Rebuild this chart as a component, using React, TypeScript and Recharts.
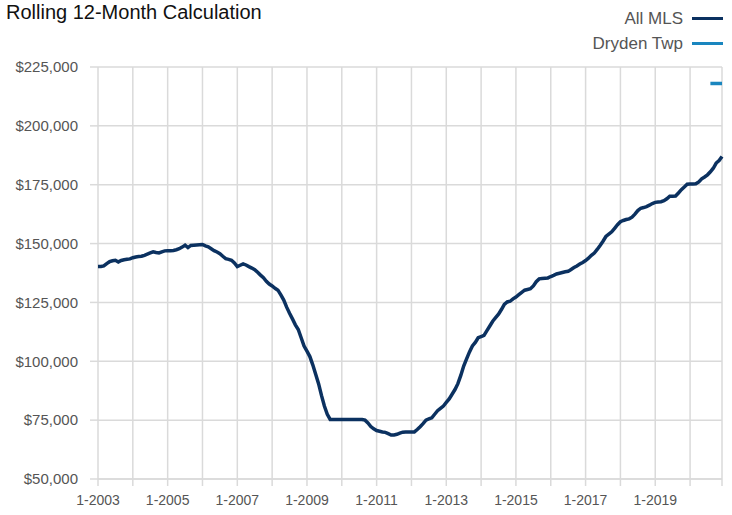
import { CartesianGrid, Line, LineChart, XAxis, YAxis } from "recharts";

// monthly rolling 12-month values, Jan 2003 .. Dec 2020
const years = [2003, 2004, 2005, 2006, 2007, 2008, 2009, 2010, 2011, 2012, 2013, 2014, 2015, 2016, 2017, 2018, 2019, 2020];

const allMls = [
  140300, 140300, 140500, 141500, 142300, 142700, 142900, 142200, 142800, 143100, 143300, 143500,
  144000, 144300, 144500, 144600, 145000, 145500, 146000, 146500, 146200, 146000, 146500, 146900,
  147000, 147000, 147100, 147400, 147800, 148500, 149300, 148300, 149200, 149300, 149400, 149500,
  149600, 149000, 148600, 147800, 147000, 146400, 145700, 144600, 143600, 143300, 142900, 141800,
  140200, 140800, 141400, 140900, 140200, 139600, 138900, 137800, 136600, 135500, 134000, 132800,
  132000, 131000, 130200, 128200, 126000, 123000, 120400, 118000, 115500, 113500, 110000, 106500,
  104300, 102000, 98500, 94500, 90500, 85500, 81000, 77500, 75300, 75300, 75300, 75300,
  75300, 75300, 75300, 75300, 75300, 75300, 75300, 75300, 75000, 73800, 72300, 71300,
  70600, 70300, 70000, 69800, 69300, 68700, 68700, 69000, 69500, 69900, 70000, 70000,
  70000, 70000, 71000, 72200, 73500, 75000, 75500, 76000, 77500, 79000, 80000, 81000,
  82500, 84000, 86000, 88000, 90500, 94000, 98000, 101000, 104000, 106500, 108000, 110000,
  110500, 111000, 113000, 115000, 117000, 118500, 120000, 122000, 124200, 125200, 125500, 126500,
  127300, 128300, 129300, 130200, 130500, 130800, 132000, 133800, 135000, 135200, 135300, 135400,
  136000, 136500, 137100, 137400, 137700, 138000, 138200, 139000, 139800, 140500, 141300, 142000,
  142800, 143800, 145000, 146000, 147500, 149200, 151000, 153000, 154000, 155000, 156500, 158000,
  159300, 159800, 160200, 160500, 161200, 162500, 164000, 165000, 165300, 165700, 166300, 167000,
  167500, 167700, 167800, 168200, 169000, 170100, 170100, 170200, 171500, 172900, 174000, 175200,
  175300, 175300, 175400, 176200, 177500, 178300, 179200, 180500, 182000, 184200, 185300, 187000,
];

// only the last few months have a value
const drydenTwp: (number | null)[] = [...Array(211).fill(null), 218000, 218000, 218000, 218000, 218000];

const yTicks = [50000, 75000, 100000, 125000, 150000, 175000, 200000, 225000];

const months = years.flatMap((y) => Array.from({ length: 12 }, (_, m) => `${m + 1}-${y}`));

const data = months.map((label, i) => ({
  i,
  label,
  allMls: allMls[i],
  dryden: drydenTwp[i],
}));

const xTicks = [...years.map((_, k) => k * 12), months.length - 1];

const NAVY = "#0b3160";
const BLUE = "#1a86bf";
const GRID = "#dadada";

const App = () => {
  return (
    <div style={{ position: "absolute", left: 0, top: 0, width: 732, height: 515, background: "#fff" }}>
      <div
        style={{
          position: "absolute",
          left: 6,
          top: 0,
          fontFamily: "'Liberation Sans', sans-serif",
          fontSize: 20,
          color: "#111",
          whiteSpace: "nowrap",
          lineHeight: "24px",
        }}
      >
        Rolling 12-Month Calculation
      </div>
      <div
        style={{
          position: "absolute",
          right: 9,
          top: 6,
          fontFamily: "'Liberation Sans', sans-serif",
          fontSize: 17,
          color: "#555",
          textAlign: "right",
          lineHeight: "25px",
        }}
      >
        {[
          { name: "All MLS", color: NAVY },
          { name: "Dryden Twp", color: BLUE },
        ].map((item) => (
          <div key={item.name} style={{ display: "flex", alignItems: "center", justifyContent: "flex-end" }}>
            <span>{item.name}</span>
            <span style={{ display: "inline-block", width: 31, height: 3, background: item.color, marginLeft: 9 }} />
          </div>
        ))}
      </div>
      <LineChart width={732} height={515} data={data} margin={{ top: 67, right: 10, left: 0, bottom: 0 }}>
        <CartesianGrid stroke={GRID} strokeWidth={1.5} />
        <XAxis
          dataKey="i"
          type="number"
          domain={[0, months.length - 1]}
          ticks={xTicks}
          interval={0}
          height={36}
          tickSize={7}
          tickMargin={9}
          axisLine={{ stroke: GRID, strokeWidth: 1.5 }}
          tickLine={{ stroke: GRID, strokeWidth: 1.5 }}
          tick={{ fill: "#555", fontSize: 14, fontFamily: "'Liberation Sans', sans-serif" }}
          tickFormatter={(v: number) => (v % 24 === 0 && v < months.length - 1 ? months[v] : "")}
        />
        <YAxis
          domain={[50000, 225000]}
          ticks={yTicks}
          interval={0}
          width={98}
          tickSize={8}
          tickMargin={12}
          axisLine={false}
          tickLine={{ stroke: GRID, strokeWidth: 1.5 }}
          tick={{ fill: "#555", fontSize: 15, fontFamily: "'Liberation Sans', sans-serif" }}
          tickFormatter={(v: number) => `$${v.toLocaleString("en-US")}`}
        />
        <Line
          type="linear"
          dataKey="allMls"
          stroke={NAVY}
          strokeWidth={3.5}
          dot={false}
          isAnimationActive={false}
        />
        <Line
          type="linear"
          dataKey="dryden"
          stroke={BLUE}
          strokeWidth={3.5}
          dot={false}
          connectNulls={false}
          isAnimationActive={false}
        />
      </LineChart>
    </div>
  );
};

export default App;
